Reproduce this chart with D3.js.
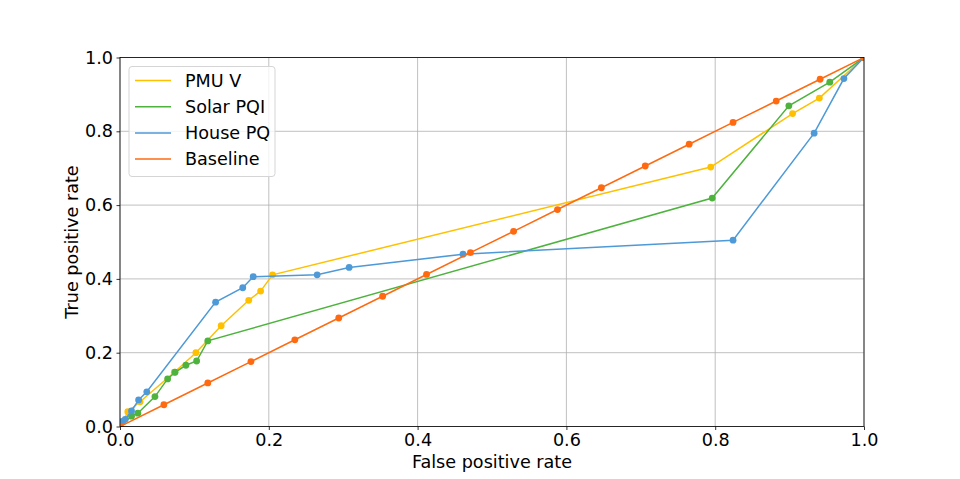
<!DOCTYPE html>
<html>
<head>
<meta charset="utf-8">
<script src="https://cdn.jsdelivr.net/npm/d3@7"></script>
<style>
  body { margin: 0; background: #fff; }
  svg text { font-family: "DejaVu Sans", sans-serif; fill: #000; }
</style>
</head>
<body>
<svg width="960" height="479"></svg>
<script>
/* ----------------------------------------------------------
data
---------------------------------------------------------- */

var seriesNames = ["PMU V", "Solar PQI", "House PQ", "Baseline"];
var seriesColors = ["#ffc000", "#4db33d", "#4e9ad8", "#ff6a10"];

// [false positive rate, true positive rate]
var pmuV = [
  [0, 0], [0.004, 0.013], [0.0105, 0.04], [0.027, 0.067], [0.073, 0.147],
  [0.102, 0.200], [0.136, 0.273], [0.173, 0.342], [0.189, 0.367],
  [0.205, 0.411], [0.794, 0.703], [0.904, 0.848], [0.940, 0.890], [1, 1]
];
var solarPQI = [
  [0, 0], [0.0155, 0.028], [0.024, 0.036], [0.047, 0.081], [0.064, 0.129],
  [0.074, 0.147], [0.0886, 0.166], [0.103, 0.1775], [0.118, 0.232],
  [0.796, 0.619], [0.899, 0.869], [0.954, 0.933], [1, 1]
];
var housePQ = [
  [0, 0], [0.003, 0.014], [0.007, 0.0195], [0.0155, 0.042], [0.025, 0.072],
  [0.036, 0.094], [0.1285, 0.337], [0.165, 0.376], [0.179, 0.406],
  [0.265, 0.411], [0.308, 0.431], [0.461, 0.467], [0.824, 0.505],
  [0.933, 0.795], [0.973, 0.943], [1, 1]
];
var baseline = [
  [0, 0], [0.059, 0.059], [0.118, 0.118], [0.176, 0.176], [0.235, 0.235],
  [0.294, 0.294], [0.353, 0.353], [0.412, 0.412], [0.471, 0.471],
  [0.529, 0.529], [0.588, 0.588], [0.647, 0.647], [0.706, 0.706],
  [0.765, 0.765], [0.824, 0.824], [0.882, 0.882], [0.941, 0.941], [1, 1]
];
var tickValues = [0, 0.2, 0.4, 0.6, 0.8, 1.0];

var allSeries = [pmuV, solarPQI, housePQ, baseline];

/* ----------------------------------------------------------
prepare
---------------------------------------------------------- */

var margin = {left: 120, right: 96, top: 57.5, bottom: 52.5};
var svg = d3.select("svg");
var W = 960 - margin.left - margin.right;
var H = 479 - margin.top - margin.bottom;
var fs = "17.6px";

var x = d3.scaleLinear().domain([0, 1]).range([0, W]);
var y = d3.scaleLinear().domain([0, 1]).range([H, 0]);

var g = svg.append("g").attr("transform", "translate(" + margin.left + "," + margin.top + ")");

svg.append("defs").append("clipPath").attr("id", "clip")
  .append("rect").attr("x", 0).attr("y", 0).attr("width", W).attr("height", H);

// grid
g.append("g").selectAll("line").data(tickValues).enter().append("line")
  .attr("x1", d => x(d)).attr("x2", d => x(d)).attr("y1", 0).attr("y2", H)
  .attr("stroke", "#b0b0b0").attr("stroke-width", 0.8);
g.append("g").selectAll("line").data(tickValues).enter().append("line")
  .attr("y1", d => y(d)).attr("y2", d => y(d)).attr("x1", 0).attr("x2", W)
  .attr("stroke", "#b0b0b0").attr("stroke-width", 0.8);

// series
var line = d3.line().x(d => x(d[0])).y(d => y(d[1]));
var plot = g.append("g").attr("clip-path", "url(#clip)");
allSeries.forEach(function(s, i) {
  var sg = plot.append("g");
  sg.append("path").datum(s).attr("d", line)
    .attr("fill", "none").attr("stroke", seriesColors[i]).attr("stroke-width", 1.5);
  sg.selectAll("circle").data(s).enter().append("circle")
    .attr("cx", d => x(d[0])).attr("cy", d => y(d[1])).attr("r", 3.4)
    .attr("fill", seriesColors[i]);
});

// axes
var xAxis = g.append("g").attr("transform", "translate(0," + H + ")")
  .call(d3.axisBottom(x).tickValues(tickValues).tickFormat(d3.format(".1f")).tickSizeInner(3.5).tickSizeOuter(0).tickPadding(3.5));
var yAxis = g.append("g")
  .call(d3.axisLeft(y).tickValues(tickValues).tickFormat(d3.format(".1f")).tickSizeInner(3.5).tickSizeOuter(0).tickPadding(3.5));
[xAxis, yAxis].forEach(function(a) {
  a.select(".domain").remove();
  a.selectAll("line").attr("stroke", "#000").attr("stroke-width", 0.8);
  a.selectAll("text").style("font-size", fs).style("font-family", "DejaVu Sans");
});

// frame
g.append("rect").attr("x", 0).attr("y", 0).attr("width", W).attr("height", H)
  .attr("fill", "none").attr("stroke", "#000").attr("stroke-width", 0.8);

// labels
svg.append("text").attr("x", margin.left + W / 2).attr("y", 468)
  .attr("text-anchor", "middle").style("font-size", fs).text("False positive rate");
svg.append("text").attr("transform", "translate(78," + (margin.top + H / 2) + ") rotate(-90)")
  .attr("text-anchor", "middle").style("font-size", fs).text("True positive rate");

// legend
var leg = g.append("g").attr("transform", "translate(9,9)");
leg.append("rect").attr("x", 0).attr("y", 0).attr("width", 146).attr("height", 110)
  .attr("rx", 3).attr("fill", "#fff").attr("fill-opacity", 0.8)
  .attr("stroke", "#d5d5d5").attr("stroke-width", 1);
var legs = leg.selectAll(".legends").data(seriesNames).enter().append("g")
  .attr("class", "legends")
  .attr("transform", (d, i) => "translate(0," + (14 + i * 26.2) + ")");
legs.append("line").attr("x1", 6).attr("x2", 42).attr("y1", 0).attr("y2", 0)
  .attr("stroke", (d, i) => seriesColors[i]).attr("stroke-width", 1.5);
legs.append("text").attr("x", 56).attr("y", 6.3).style("font-size", fs).text(d => d);
</script>
</body>
</html>
